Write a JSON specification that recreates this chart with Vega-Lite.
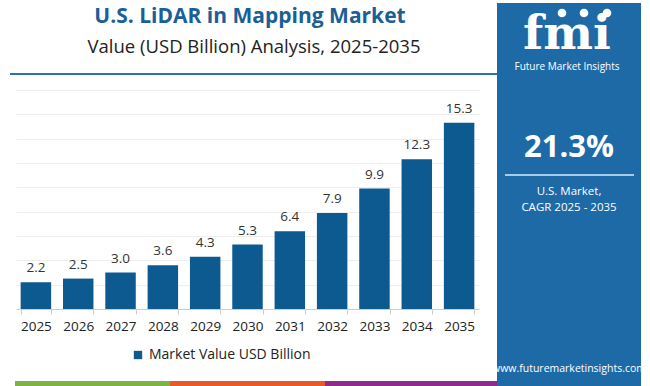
{
  "$schema": "https://vega.github.io/schema/vega-lite/v6.json",
  "width": 463,
  "height": 219,
  "autosize": {"type": "none"},
  "padding": {"left": 16, "top": 90, "right": 171, "bottom": 77},
  "background": "white",
  "config": {"view": {"stroke": null}, "font": "Open Sans"},
  "layer": [
    {
      "data": {"values": [{}]},
      "mark": {"type": "rect", "color": "#1d6aa7"},
      "encoding": {"x": {"value": 481}, "x2": {"value": 625}, "y": {"value": -87}, "y2": {"value": 296}}
    },
    {
      "data": {"values": [{}]},
      "mark": {"type": "text", "text": "U.S. LiDAR in Mapping Market", "fontSize": 21, "fontWeight": "bold", "color": "#1a5f96", "align": "center", "baseline": "middle"},
      "encoding": {"x": {"value": 234}, "y": {"value": -73}}
    },
    {
      "data": {"values": [{}]},
      "mark": {"type": "text", "text": "Value (USD Billion) Analysis, 2025-2035", "fontSize": 18.5, "color": "#222222", "align": "center", "baseline": "middle"},
      "encoding": {"x": {"value": 238}, "y": {"value": -43}}
    },
    {
      "data": {"values": [{}]},
      "mark": {"type": "rule", "color": "#2b73b3", "strokeWidth": 2},
      "encoding": {"x": {"value": -6}, "x2": {"value": 481}, "y": {"value": -16}}
    },
    {
      "data": {"values": [{}]},
      "mark": {"type": "rect", "color": "#7cb342"},
      "encoding": {"x": {"value": -1}, "x2": {"value": 154}, "y": {"value": 291}, "y2": {"value": 296}}
    },
    {
      "data": {"values": [{}]},
      "mark": {"type": "rect", "color": "#ea5a28"},
      "encoding": {"x": {"value": 154}, "x2": {"value": 309}, "y": {"value": 291}, "y2": {"value": 296}}
    },
    {
      "data": {"values": [{}]},
      "mark": {"type": "rect", "color": "#8e2b8c"},
      "encoding": {"x": {"value": 309}, "x2": {"value": 481}, "y": {"value": 291}, "y2": {"value": 296}}
    },
    {
      "data": {"values": [{}]},
      "mark": {"type": "text", "text": "fmi", "font": "DejaVu Serif", "fontWeight": "bold", "fontSize": 47, "color": "white", "align": "center", "baseline": "alphabetic"},
      "encoding": {"x": {"value": 551}, "y": {"value": -41}}
    },
    {
      "data": {"values": [{}]},
      "mark": {"type": "point", "filled": true, "color": "white", "size": 75, "opacity": 1},
      "encoding": {"x": {"value": 546}, "y": {"value": -77}}
    },
    {
      "data": {"values": [{}]},
      "mark": {"type": "point", "filled": true, "color": "white", "size": 75, "opacity": 1},
      "encoding": {"x": {"value": 568}, "y": {"value": -77}}
    },
    {
      "data": {"values": [{}]},
      "mark": {"type": "point", "filled": true, "color": "white", "size": 75, "opacity": 1},
      "encoding": {"x": {"value": 591}, "y": {"value": -77}}
    },
    {
      "data": {"values": [{}]},
      "mark": {"type": "text", "text": "Future Market Insights", "fontSize": 10, "color": "white", "align": "center", "baseline": "middle"},
      "encoding": {"x": {"value": 551}, "y": {"value": -23}}
    },
    {
      "data": {"values": [{}]},
      "mark": {"type": "text", "text": "21.3%", "fontSize": 31, "fontWeight": "bold", "color": "white", "align": "center", "baseline": "middle"},
      "encoding": {"x": {"value": 553}, "y": {"value": 58}}
    },
    {
      "data": {"values": [{}]},
      "mark": {"type": "rule", "color": "#a8cbe8", "strokeWidth": 2},
      "encoding": {"x": {"value": 489}, "x2": {"value": 618}, "y": {"value": 85}}
    },
    {
      "data": {"values": [{}]},
      "mark": {"type": "text", "text": "U.S. Market,", "fontSize": 11.5, "color": "white", "align": "center", "baseline": "middle"},
      "encoding": {"x": {"value": 553}, "y": {"value": 102}}
    },
    {
      "data": {"values": [{}]},
      "mark": {"type": "text", "text": "CAGR 2025 - 2035", "fontSize": 11.5, "color": "white", "align": "center", "baseline": "middle"},
      "encoding": {"x": {"value": 553}, "y": {"value": 118}}
    },
    {
      "data": {"values": [{}]},
      "mark": {"type": "text", "text": "www.futuremarketinsights.com", "fontSize": 10.5, "color": "white", "align": "center", "baseline": "middle"},
      "encoding": {"x": {"value": 553}, "y": {"value": 279}}
    },
    {
      "data": {"values": [
        {"year": "2025", "value": 2.2},
        {"year": "2026", "value": 2.5},
        {"year": "2027", "value": 3.0},
        {"year": "2028", "value": 3.6},
        {"year": "2029", "value": 4.3},
        {"year": "2030", "value": 5.3},
        {"year": "2031", "value": 6.4},
        {"year": "2032", "value": 7.9},
        {"year": "2033", "value": 9.9},
        {"year": "2034", "value": 12.3},
        {"year": "2035", "value": 15.3}
      ]},
      "encoding": {
        "x": {
          "field": "year", "type": "ordinal",
          "scale": {"paddingInner": 0.28, "paddingOuter": 0.11},
          "axis": {"title": null, "labelAngle": 0, "labelFontSize": 13.5, "labelColor": "#222222", "tickColor": "#cccccc", "tickSize": 5, "domainColor": "#cccccc", "labelPadding": 5, "tickBand": "extent", "grid": false}
        },
        "y": {
          "field": "value", "type": "quantitative",
          "scale": {"domain": [0, 18]},
          "axis": {"title": null, "labels": false, "ticks": false, "domain": false, "values": [0, 2, 4, 6, 8, 10, 12, 14, 16, 18], "gridColor": "#eeeeee"}
        }
      },
      "layer": [
        {
          "mark": {"type": "bar"},
          "encoding": {
            "color": {
              "datum": "Market Value USD Billion",
              "scale": {"range": ["#0d5a91"]},
              "legend": {"title": null, "orient": "none", "legendX": 115, "legendY": 258, "symbolType": "square", "symbolSize": 70, "labelFontSize": 14, "labelLimit": 400, "labelOffset": 4, "labelColor": "#222222", "symbolStrokeWidth": 0}
            }
          }
        },
        {
          "mark": {"type": "text", "baseline": "bottom", "dy": -7, "fontSize": 13.5, "color": "#333333"},
          "encoding": {"text": {"field": "value", "type": "quantitative", "format": ".1f"}}
        }
      ]
    }
  ]
}
